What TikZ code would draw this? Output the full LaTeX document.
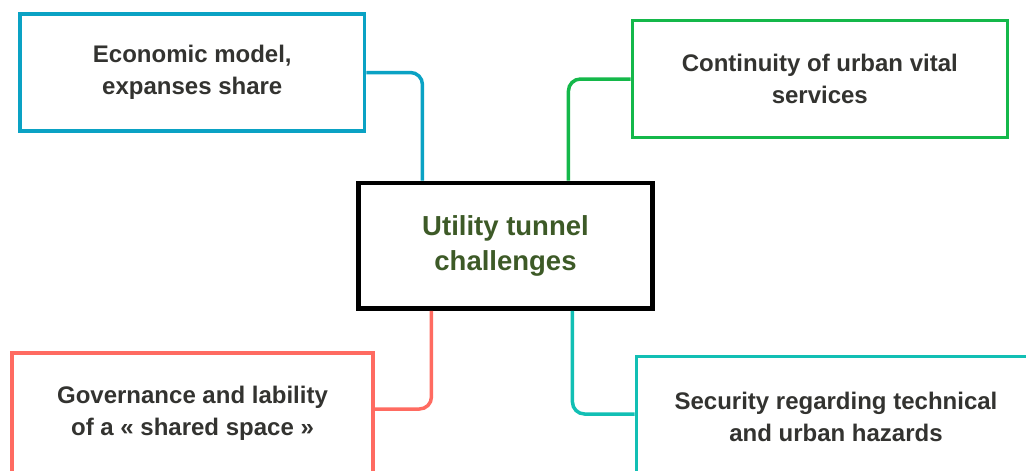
\documentclass[tikz,border=0pt]{standalone}
\usepackage{fontspec}
\setmainfont{Liberation Sans}
\definecolor{econblue}{HTML}{0AA2C4}
\definecolor{contgreen}{HTML}{14B84A}
\definecolor{govred}{HTML}{FF6B61}
\definecolor{secteal}{HTML}{12BFB4}
\definecolor{labelgray}{HTML}{333330}
\definecolor{coregreen}{HTML}{3D5A27}
\begin{document}
\begin{tikzpicture}[x=1pt, y=-1pt]
    \tikzstyle{issue} = [rectangle, inner sep=0pt, line width=3.5pt, align=center, text=labelgray, font=\bfseries\fontsize{24}{32}\selectfont]
    \tikzstyle{core} = [rectangle, inner sep=0pt, line width=4.5pt, draw=black, align=center, text=coregreen, font=\bfseries\fontsize{27.5}{35}\selectfont, minimum width=293.6pt, minimum height=125.7pt]
    \tikzstyle{link} = [line width=3.5pt, rounded corners=12pt]
    \useasboundingbox (0,0) rectangle (1026,471);
    \clip (0,0) rectangle (1026,471);

    % Central challenge
    \node [core] (challenges) at (505.5,245.8) {Utility tunnel\\challenges};

    % Surrounding issues
    \node [issue, draw=econblue, minimum width=344.7pt, minimum height=117pt] (economic) at (192.3,72.5) {Economic model,\\expanses share};
    \node [issue, draw=contgreen, minimum width=375pt, minimum height=117.4pt] (continuity) at (819.8,79) {Continuity of urban vital\\services};
    \node [issue, draw=govred, minimum width=361pt, minimum height=120pt] (governance) at (192.5,413) {Governance and lability\\of a « shared space »};
    \node [issue, draw=secteal, minimum width=399.4pt, minimum height=121.5pt] (security) at (836,417) {Security regarding technical\\and urban hazards};

    % Connections
    \draw [link, econblue] (economic.east) -| ([xshift=66pt]challenges.north west);
    \draw [link, contgreen] (continuity.west) -| ([xshift=212pt]challenges.north west);
    \draw [link, govred] ([xshift=75pt]challenges.south west) |- ([yshift=4pt]governance.east);
    \draw [link, secteal] ([xshift=216pt]challenges.south west) |- ([yshift=3pt]security.west);
\end{tikzpicture}
\end{document}
